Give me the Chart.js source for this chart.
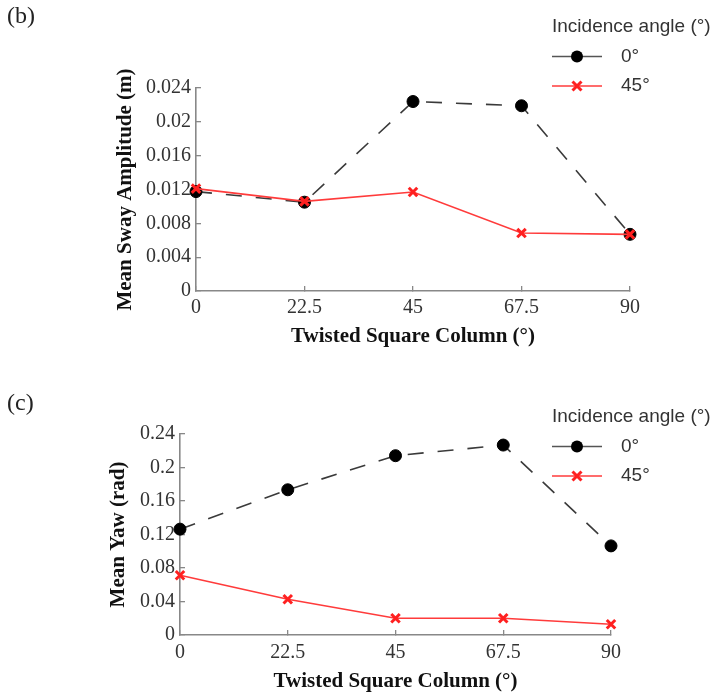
<!DOCTYPE html>
<html>
<head>
<meta charset="utf-8">
<script src="https://cdn.jsdelivr.net/npm/chart.js@4/dist/chart.umd.min.js"></script>
<style>
  html, body { margin: 0; padding: 0; background: #fff; overflow: hidden; }
  #wrap { position: relative; width: 718px; height: 694px; }
  .panel { position: absolute; left: 0; width: 718px; }
  .tag { position: absolute; font-family: "Liberation Serif", "Times New Roman", serif; font-size: 24px; line-height: 1; color: #222; }
</style>
</head>
<body>
<div id="wrap">
  <div class="panel" style="top:0;height:360px;"><canvas id="chartB" width="718" height="360"></canvas></div>
  <div class="panel" style="top:345px;height:349px;"><canvas id="chartC" width="718" height="349"></canvas></div>
  <div class="tag" style="left:7px;top:3px;">(b)</div>
  <div class="tag" style="left:7px;top:390px;">(c)</div>
</div>
<script>
// ---- data ----
const twistAngles = [0, 22.5, 45, 67.5, 90];
const xTickLabels = ['0', '22.5', '45', '67.5', '90'];
const seriesLabels = ['0°', '45°'];
const legendTitle = 'Incidence angle (°)';

const swayInc0  = [0.01175, 0.01050, 0.02240, 0.02190, 0.00670];
const swayInc45 = [0.01210, 0.01060, 0.01170, 0.00685, 0.00670];
const swayTicks = [0, 0.004, 0.008, 0.012, 0.016, 0.02, 0.024];

const yawInc0  = [0.1264, 0.1734, 0.2141, 0.2268, 0.1064];
const yawInc45 = [0.0714, 0.0427, 0.0200, 0.0200, 0.0128];
const yawTicks = [0, 0.04, 0.08, 0.12, 0.16, 0.2, 0.24];

// ---- helpers ----
const toPoints = vals => vals.map((v, i) => ({x: twistAngles[i], y: v}));
const serif = '"Liberation Serif", "Times New Roman", serif';
const sans = '"Liberation Sans", Arial, sans-serif';

const legendPlugin = {
  id: 'sideLegend',
  afterDraw(chart, args, opts) {
    const ctx = chart.ctx;
    ctx.save();
    ctx.font = '19px ' + sans;
    ctx.fillStyle = '#333';
    ctx.textBaseline = 'middle';
    ctx.textAlign = 'left';
    ctx.fillText(opts.title, opts.x, opts.y);
    chart.data.datasets.forEach((ds, i) => {
      const y = opts.y + opts.rowGap * (i + 1);
      const x0 = opts.x, x1 = opts.x + 50, xm = opts.x + 25;
      ctx.setLineDash([]);
      ctx.strokeStyle = ds.legendLineColor || ds.borderColor;
      ctx.lineWidth = 1.6;
      ctx.beginPath(); ctx.moveTo(x0, y); ctx.lineTo(x1, y); ctx.stroke();
      if (ds.pointStyle === 'circle') {
        ctx.fillStyle = ds.pointBackgroundColor;
        ctx.beginPath(); ctx.arc(xm, y, ds.pointRadius, 0, Math.PI * 2); ctx.fill();
      } else {
        const r = ds.pointRadius * 0.75;
        ctx.strokeStyle = ds.pointBorderColor;
        ctx.lineWidth = ds.pointBorderWidth;
        ctx.beginPath();
        ctx.moveTo(xm - r, y - r); ctx.lineTo(xm + r, y + r);
        ctx.moveTo(xm - r, y + r); ctx.lineTo(xm + r, y - r);
        ctx.stroke();
      }
      ctx.fillStyle = '#333';
      ctx.fillText(ds.label, opts.x + 69, y);
    });
    ctx.restore();
  }
};

function makeDatasets(v0, v45) {
  return [
    {
      label: seriesLabels[0],
      data: toPoints(v0),
      borderColor: '#3a3a3a',
      legendLineColor: '#555',
      borderWidth: 1.6,
      borderDash: [16, 14],
      pointStyle: 'circle',
      pointRadius: 6,
      pointBackgroundColor: '#000',
      pointBorderColor: '#000',
      pointBorderWidth: 1,
      tension: 0,
      clip: false,
      order: 2
    },
    {
      label: seriesLabels[1],
      data: toPoints(v45),
      borderColor: '#ff3b3b',
      borderWidth: 1.6,
      pointStyle: 'crossRot',
      pointRadius: 6,
      pointBackgroundColor: '#ff2020',
      pointBorderColor: '#ff2020',
      pointBorderWidth: 3,
      tension: 0,
      clip: false,
      order: 1
    }
  ];
}

function makeChart(id, v0, v45, yTicks, yTitle, cfg) {
  return new Chart(document.getElementById(id), {
    type: 'line',
    data: { datasets: makeDatasets(v0, v45) },
    plugins: [legendPlugin],
    options: {
      responsive: false,
      animation: false,
      events: [],
      layout: { padding: { top: cfg.top, right: cfg.right, bottom: 0, left: 0 } },
      plugins: {
        legend: { display: false },
        tooltip: { enabled: false },
        sideLegend: { title: legendTitle, x: 552, y: cfg.legendY, rowGap: 29.5 }
      },
      scales: {
        x: {
          type: 'linear',
          min: 0, max: 90,
          afterBuildTicks: s => { s.ticks = twistAngles.map(v => ({value: v})); },
          afterFit: s => { s.height = cfg.xHeight; },
          ticks: {
            callback: (v, i) => xTickLabels[i],
            font: { family: serif, size: 20 },
            color: '#333',
            padding: cfg.xTickPad,
            maxRotation: 0,
            autoSkip: false
          },
          grid: { display: true, drawOnChartArea: false, drawTicks: true, tickLength: -5, color: '#888', lineWidth: 1.3 },
          border: { display: true, color: '#888', width: 1.6 },
          title: {
            display: true,
            text: 'Twisted Square Column (°)',
            font: { family: serif, size: 21, weight: 'bold', lineHeight: 1 },
            color: '#111',
            padding: { top: 0, bottom: cfg.xTitlePad }
          }
        },
        y: {
          type: 'linear',
          min: yTicks[0], max: yTicks[yTicks.length - 1],
          afterBuildTicks: s => { s.ticks = yTicks.map(v => ({value: v})); },
          afterFit: s => { s.width = cfg.left; },
          ticks: {
            callback: v => String(v),
            font: { family: serif, size: 20 },
            color: '#333',
            padding: 10,
            autoSkip: false
          },
          grid: { display: true, drawOnChartArea: false, drawTicks: true, tickLength: -5, color: '#888', lineWidth: 1.3 },
          border: { display: true, color: '#888', width: 1.6 },
          title: {
            display: true,
            text: yTitle,
            font: { family: serif, size: 21, weight: 'bold', lineHeight: 1 },
            color: '#111',
            padding: { top: cfg.yTitlePad, bottom: 0 }
          }
        }
      }
    }
  });
}

makeChart('chartB', swayInc0, swayInc45, swayTicks, 'Mean Sway Amplitude (m)',
  { top: 88, right: 88, left: 196, xHeight: 69, xTitlePad: 13, xTickPad: 10, yTitlePad: 115, legendY: 27 });
makeChart('chartC', yawInc0, yawInc45, yawTicks, 'Mean Yaw (rad)',
  { top: 89, right: 107, left: 180, xHeight: 59, xTitlePad: 2, xTickPad: 11, yTitlePad: 108, legendY: 72 });
</script>
</body>
</html>
